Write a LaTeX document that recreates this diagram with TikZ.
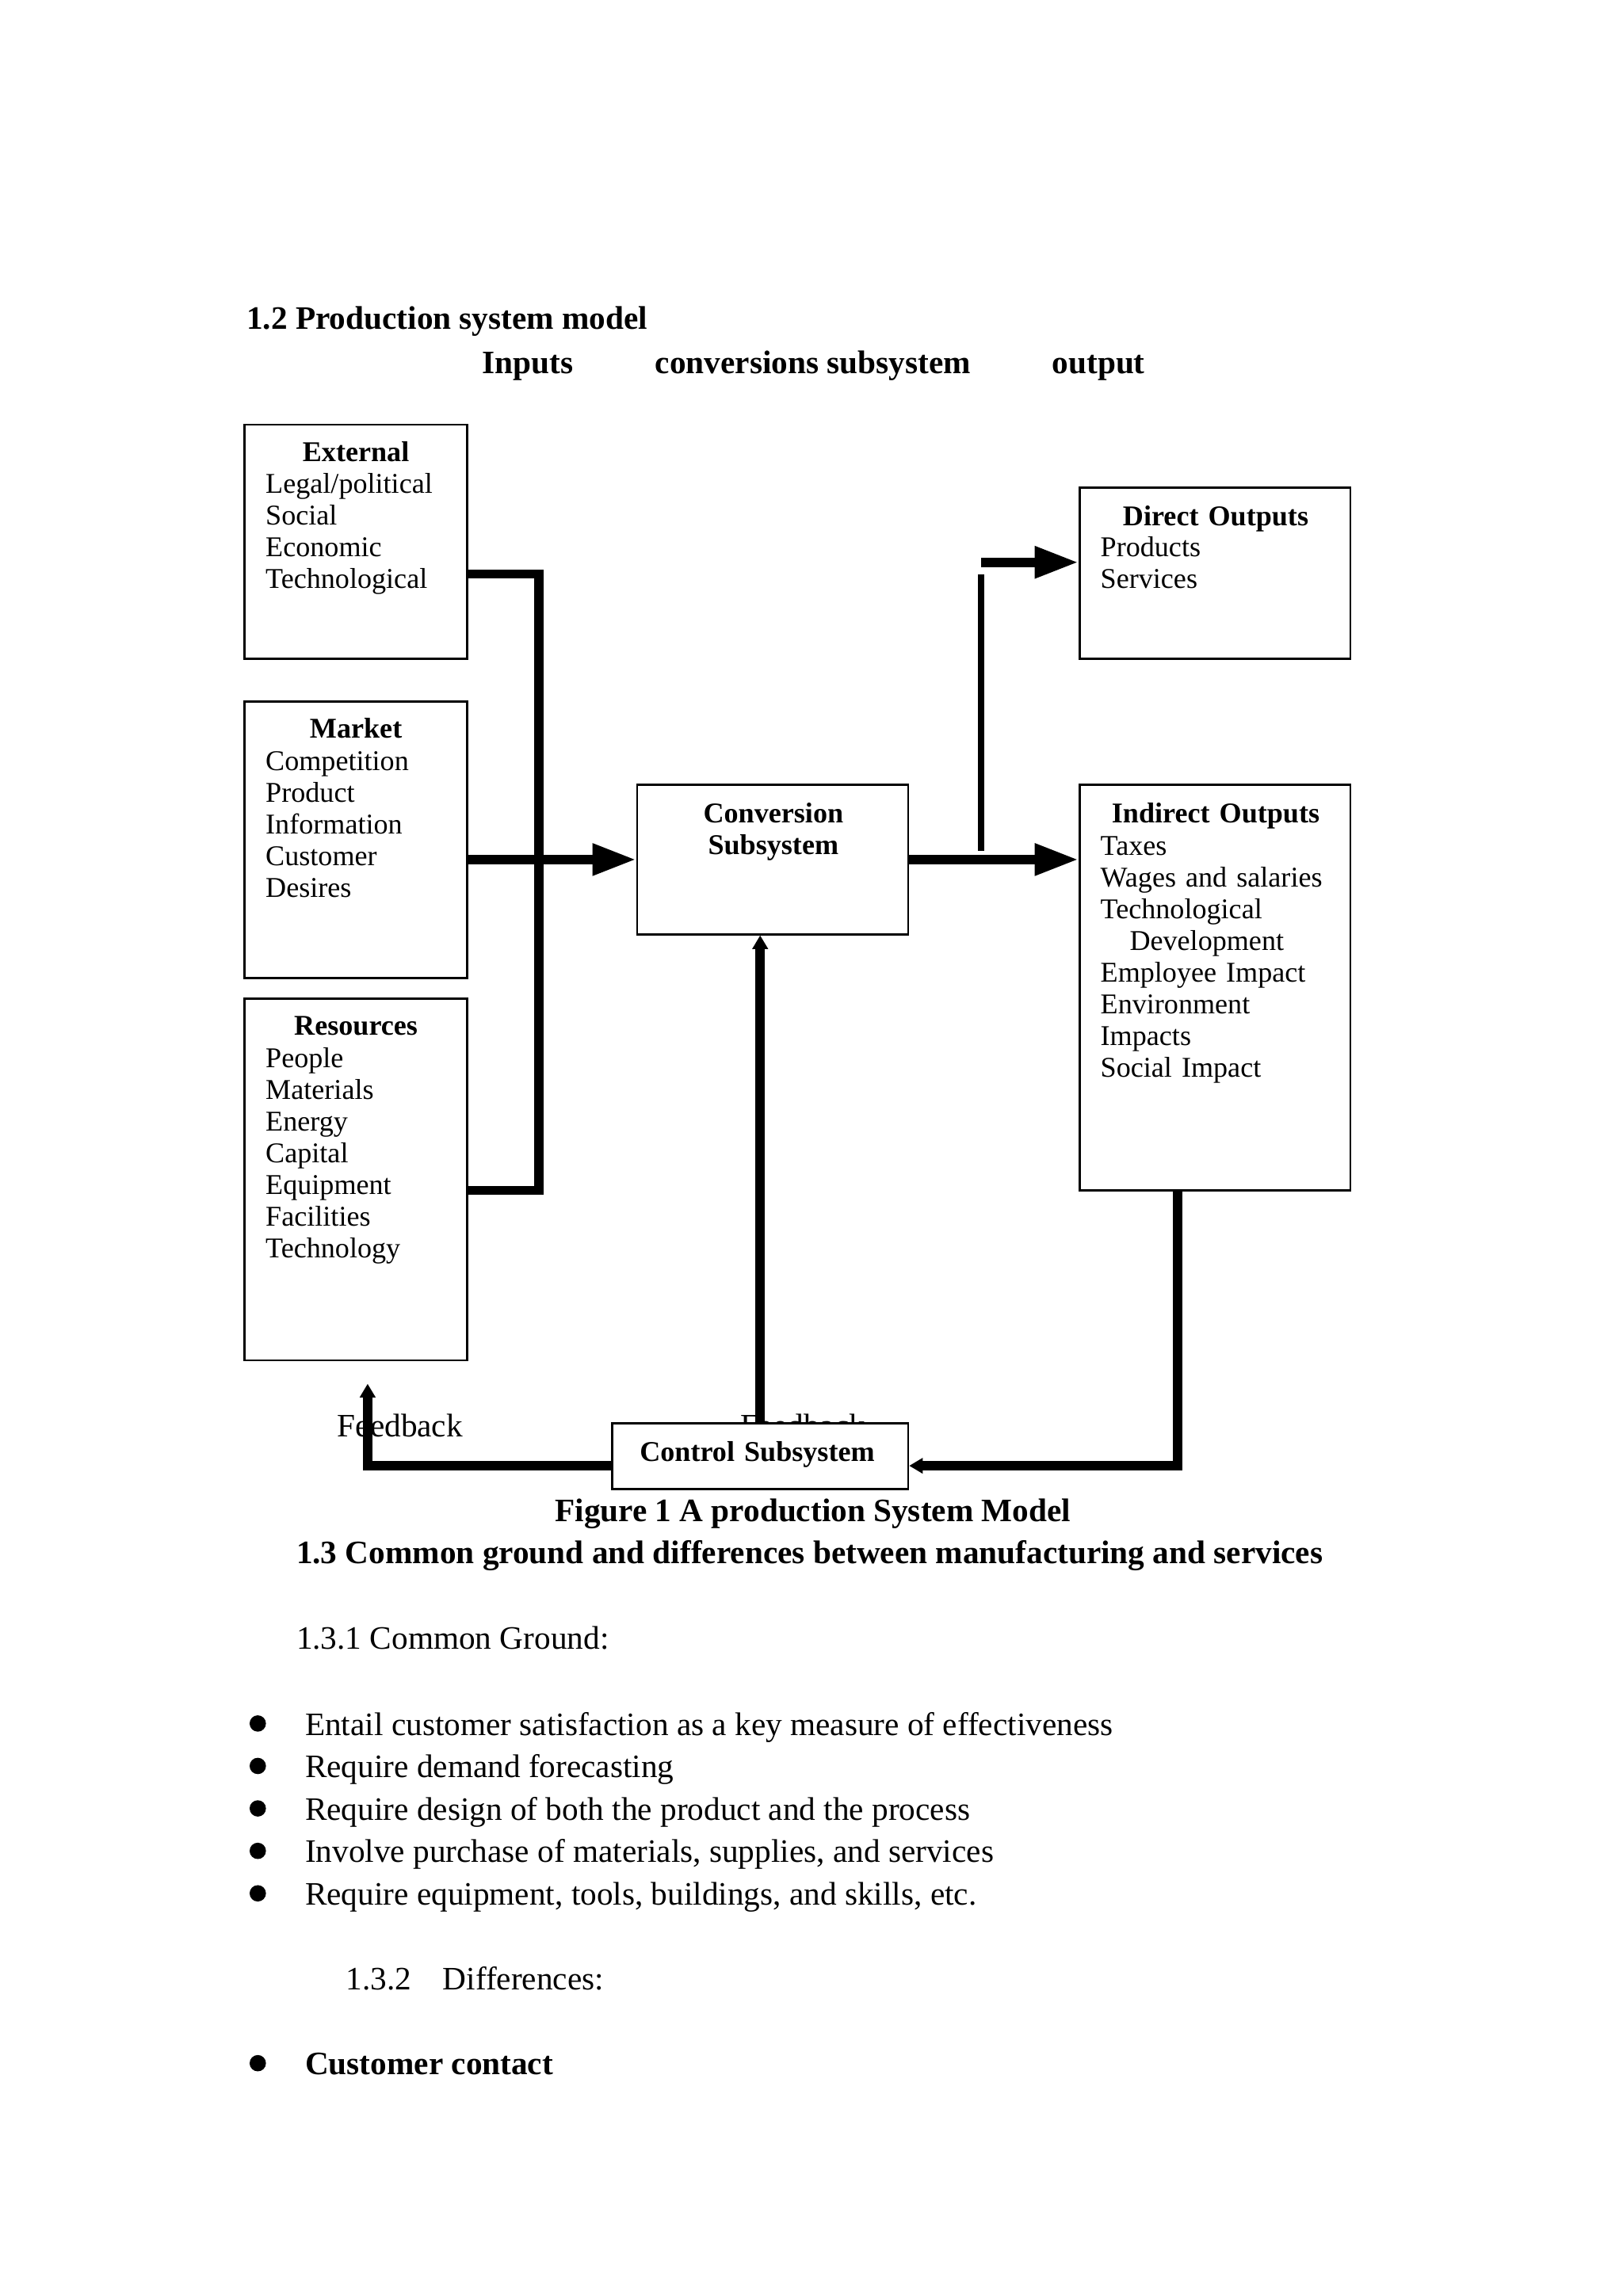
\documentclass[tikz,border=0pt]{standalone}
\usepackage{fontspec}
\setmainfont{Liberation Serif}
\usetikzlibrary{arrows.meta,fit}
\tikzset{
  box/.style={draw, line width=0.8pt, inner sep=0pt},
  boxtitle/.style={font=\fontsize{10.5}{11.64}\selectfont\bfseries, anchor=base, inner sep=0pt, text width=100pt, align=center, yshift=-1.07pt},
  boxlist/.style={font=\fontsize{10.5}{11.64}\selectfont, anchor=base west, inner sep=0pt, text width=100pt, align=left, yshift=-1.07pt},
  flow/.style={line width=3.4pt, line join=miter},
  thinflow/.style={line width=2.3pt},
  bighead/.style={-{Triangle[length=16pt,width=11pt]}},
  smallhead/.style={-{Triangle[length=5pt,width=5.5pt]}},
  body/.style={font=\fontsize{12}{14}\selectfont, anchor=base west, inner sep=0pt, yshift=-1.07pt},
  bodyhead/.style={font=\fontsize{12}{14}\selectfont\bfseries, anchor=base west, inner sep=0pt, yshift=-1.07pt},
  dot/.style={circle, fill, inner sep=0pt, minimum size=6pt},
}
\begin{document}
\begin{tikzpicture}[x=0.5373pt, y=-0.5373pt]
\useasboundingbox (0,0) rectangle (1108,1568);

% headings
\node[bodyhead] (h12) at (168,223) {1.2 Production system model};
\node[bodyhead] (hin) at (329,253) {Inputs};
\node[bodyhead] (hconv) at (447,253) {conversions subsystem};
\node[bodyhead] (hout) at (718,253) {output};

% boxes
\node[box, fit={(167,290) (319,450)}] (ext) {};
\node[box, fit={(167,479) (319,668)}] (mkt) {};
\node[box, fit={(167,682) (319,929)}] (res) {};
\node[box, fit={(435,536) (620,638)}] (conv) {};
\node[box, fit={(737,333) (922,450)}] (dir) {};
\node[box, fit={(737,536) (922,813)}] (ind) {};

% box texts
\node[boxtitle] (extT) at (243,313) {External};
\node[boxlist] (extL) at (181,335) {Legal/political\\Social\\Economic\\Technological};
\node[boxtitle] (mktT) at (243,502) {Market};
\node[boxlist] (mktL) at (181,524) {Competition\\Product\\Information\\Customer\\Desires};
\node[boxtitle] (resT) at (243,705) {Resources};
\node[boxlist] (resL) at (181,727) {People\\Materials\\Energy\\Capital\\Equipment\\Facilities\\Technology};
\node[boxtitle] (convT) at (528,560) {Conversion\\Subsystem};
\node[boxtitle] (dirT) at (830,357) {Direct Outputs};
\node[boxlist] (dirL) at (751,378) {Products\\Services};
\node[boxtitle] (indT) at (830,560) {Indirect Outputs};
\node[boxlist] (indL) at (751,582) {Taxes\\Wages and salaries\\Technological\\\hspace*{10.7pt}Development\\Employee Impact\\Environment\\Impacts\\Social Impact};

% feedback labels
\node[body] (fb1) at (230,979) {Feedback};
\node[body] (fb2) at (505,979) {Feedback};

% control subsystem
\node[box, fill=white, fit={(418,972) (620,1017)}] (ctl) {};
\node[boxtitle] (ctlT) at (517,996) {Control Subsystem};

% connectors
\coordinate (busTop) at (368,392);
\coordinate (busBot) at (368,813);
\draw[flow] (ext.east |- busTop) -- (busTop) -- (busBot) -- (res.east |- busBot);
\draw[flow, bighead] (mkt.east |- conv.west) -- (conv.west);
\draw[flow, bighead] (conv.east) -- (ind.west |- conv.east);
\coordinate (split) at (670,581);
\coordinate (splitTop) at (670,392);
\coordinate (turn) at (670,384);
\draw[thinflow] (split) -- (splitTop);
\draw[flow, bighead] (turn) -- (dir.west |- turn);
\coordinate (indDown) at (804,1001);
\draw[flow, smallhead] (ind.south -| indDown) -- (indDown) -- (ctl.east |- indDown);
\coordinate (fbCorner) at (251,1001);
\coordinate (fbEnd) at (251,945);
\draw[flow, smallhead] (ctl.west |- fbCorner) -- (fbCorner) -- (fbEnd);
\coordinate (upLine) at (519,1001);
\draw[flow, smallhead] (ctl.north -| upLine) -- (conv.south -| upLine);

% caption and following text
\node[bodyhead, anchor=base] (cap) at (555,1037) {Figure 1 A production System Model};
\node[bodyhead] (h13) at (202,1066) {1.3 Common ground and differences between manufacturing and services};
\node[body] (h131) at (202,1124) {1.3.1 Common Ground:};

\node[dot] (b1) at (176,1177) {};
\node[body] (t1) at (208,1183) {Entail customer satisfaction as a key measure of effectiveness};
\node[dot] (b2) at (176,1206) {};
\node[body] (t2) at (208,1212) {Require demand forecasting};
\node[dot] (b3) at (176,1235) {};
\node[body] (t3) at (208,1241) {Require design of both the product and the process};
\node[dot] (b4) at (176,1264) {};
\node[body] (t4) at (208,1270) {Involve purchase of materials, supplies, and services};
\node[dot] (b5) at (176,1293) {};
\node[body] (t5) at (208,1299) {Require equipment, tools, buildings, and skills, etc.};

\node[body] (h132) at (236,1357) {1.3.2};
\node[body] (h132b) at (302,1357) {Differences:};

\node[dot] (b6) at (176,1409) {};
\node[bodyhead] (t6) at (208,1415) {Customer contact};
\end{tikzpicture}
\end{document}
